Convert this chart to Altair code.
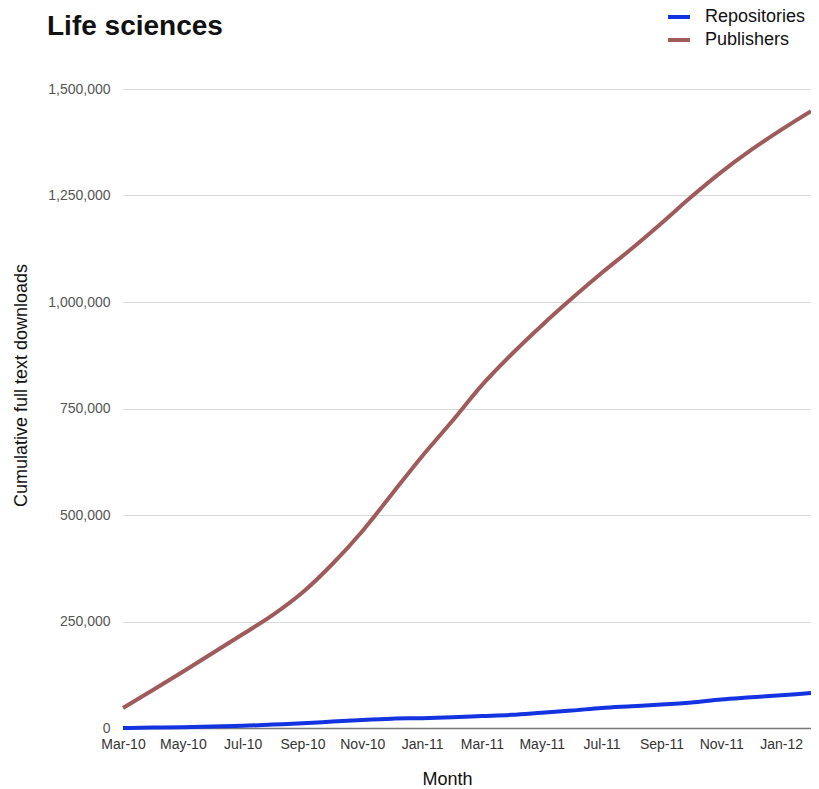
import altair as alt
import pandas as pd

months = ["Mar-10", "Apr-10", "May-10", "Jun-10", "Jul-10", "Aug-10", "Sep-10", "Oct-10",
          "Nov-10", "Dec-10", "Jan-11", "Feb-11", "Mar-11", "Apr-11", "May-11", "Jun-11",
          "Jul-11", "Aug-11", "Sep-11", "Oct-11", "Nov-11", "Dec-11", "Jan-12", "Feb-12"]
repositories = [0, 1000, 2000, 3500, 5000, 8000, 11000, 15000, 19000, 22000, 23000, 25000,
                28000, 31000, 36000, 41000, 47000, 51000, 55000, 60000, 67000, 72000, 77000, 82000]
publishers = [47000, 89000, 132000, 176000, 220000, 265000, 318000, 385000, 462000, 550000,
              638000, 720000, 805000, 878000, 945000, 1008000, 1068000, 1125000, 1185000,
              1247000, 1305000, 1357000, 1404000, 1448000]
series_names = ["Repositories", "Publishers"]
series_colors = ["#1433e0", "#9f5b5b"]
y_ticks = [0, 250000, 500000, 750000, 1000000, 1250000, 1500000]

rows = []
for name, vals in zip(series_names, [repositories, publishers]):
    for m, v in zip(months, vals):
        rows.append({"Month": m, "Value": v, "Series": name})
df = pd.DataFrame(rows)

FONT = "Liberation Sans"

chart = alt.Chart(df).mark_line(interpolate="monotone", strokeWidth=4).encode(
    x=alt.X("Month:O", sort=months,
            scale=alt.Scale(type="point", padding=0),
            axis=alt.Axis(values=months[::2], labelAngle=0, ticks=False, grid=False,
                          domainColor="#777777", domainWidth=1.5,
                          labelFontSize=14, labelColor="#333333", labelFont=FONT,
                          labelPadding=9,
                          title="Month", titleFontSize=18, titleFont=FONT,
                          titleFontWeight="normal", titleColor="#111111",
                          titleX=324, titleY=56, titleBaseline="alphabetic")),
    y=alt.Y("Value:Q", scale=alt.Scale(domain=[0, 1500000], nice=False),
            axis=alt.Axis(values=y_ticks, format=",.0f", domain=False, ticks=False,
                          gridColor="#d9d9d9", gridWidth=1,
                          labelFontSize=14, labelColor="#555555", labelFont=FONT,
                          labelPadding=13,
                          title="Cumulative full text downloads", titleFontSize=18,
                          titleFont=FONT, titleFontWeight="normal", titleColor="#111111",
                          titleX=-97, titleY=296, titleAngle=270,
                          titleBaseline="alphabetic", titleAlign="center")),
    color=alt.Color("Series:N",
                    scale=alt.Scale(domain=series_names, range=series_colors),
                    legend=alt.Legend(orient="none", legendX=543, legendY=-85, title=None,
                                      symbolType="stroke", symbolSize=484,
                                      symbolStrokeWidth=4, labelFontSize=18,
                                      labelFont=FONT, labelColor="#111111",
                                      labelOffset=13, rowPadding=1, padding=0)),
).properties(
    width=688, height=639,
    padding={"left": 115, "top": 81, "right": 0, "bottom": 60},
    autosize=alt.AutoSizeParams(type="none"),
    title=alt.TitleParams("Life sciences", anchor="start", frame="group", dx=-76,
                          dy=89, fontSize=28, font=FONT, fontWeight="bold",
                          color="#111111", offset=30, baseline="alphabetic"),
).configure_view(stroke=None)

chart.save("out.html", embed_options={"renderer": "svg", "actions": False})
